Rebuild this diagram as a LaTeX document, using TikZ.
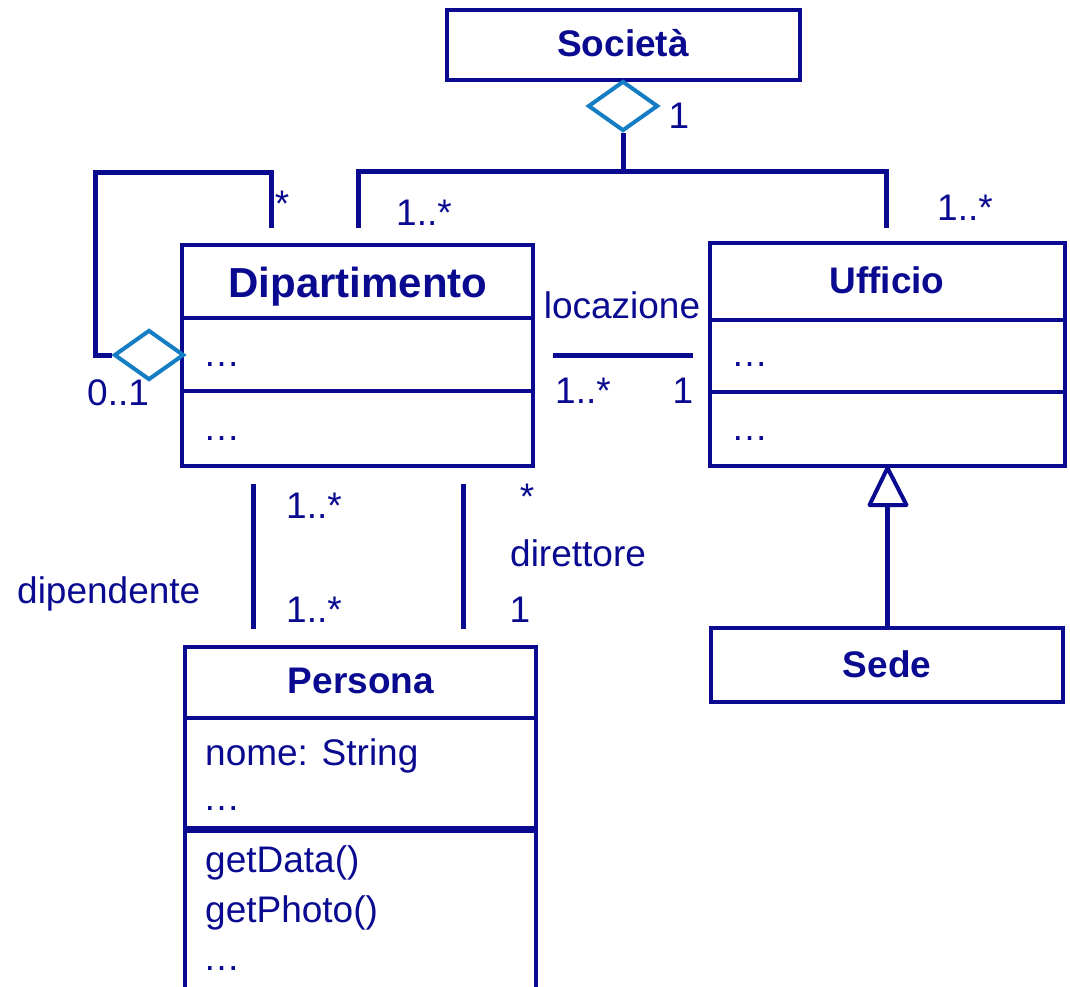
\documentclass[tikz,border=0pt]{standalone}
\usepackage{fontspec}
\setmainfont{Liberation Sans}
\usetikzlibrary{shapes.geometric}
\definecolor{navy}{RGB}{10,10,145}
\definecolor{aggblue}{RGB}{20,125,195}
\tikzset{
  cls/.style={draw=navy, line width=4pt, inner sep=0pt},
  conn/.style={draw=navy, line width=5pt},
  agg/.style={diamond, draw=aggblue, fill=white, line width=4pt, inner sep=0pt,
    minimum width=70pt, minimum height=50pt},
  lbl/.style={text=navy, anchor=base, inner sep=0pt, font=\fontsize{37}{44}\selectfont},
  ttl/.style={lbl, font=\fontsize{37}{44}\selectfont\bfseries}
}
\begin{document}
\begin{tikzpicture}[x=1pt, y=-1pt]

\useasboundingbox (0,0) rectangle (1070,987);
\clip (0,0) rectangle (1070,987);

% classes
\node[cls, minimum width=353, minimum height=70] (soc) at (623.5,45) {};
\node[cls, minimum width=351, minimum height=221] (dip) at (357.5,355.5) {};
\node[cls, minimum width=355, minimum height=223] (uff) at (887.5,354.5) {};
\node[cls, minimum width=352, minimum height=74] (sede) at (887,665) {};
\draw[navy, line width=4pt] (185,1000) -- (185,647) -- (536,647) -- (536,1000);
\coordinate (pers) at (360.5,647);

\draw[navy, line width=4pt] (182,318) -- (533,318);
\draw[navy, line width=4pt] (182,391) -- (533,391);
\draw[navy, line width=4pt] (710,320) -- (1065,320);
\draw[navy, line width=4pt] (710,392) -- (1065,392);
\draw[navy, line width=4pt] (185,718) -- (536,718);
\draw[navy, line width=7pt] (185,829) -- (536,829);

\node[ttl] (soct) at (623,57) {Società};
\node[ttl, font=\fontsize{42}{48}\selectfont\bfseries] (dipt) at (358,297) {Dipartimento};
\node[ttl] (ufft) at (887,293) {Ufficio};
\node[ttl] (perst) at (361,693) {Persona};
\node[ttl] (sedet) at (887,677) {Sede};

\node[lbl, anchor=base west] (dipa) at (203,366) {…};
\node[lbl, anchor=base west] (dipo) at (203,440) {…};
\node[lbl, anchor=base west] (uffa) at (731,366) {…};
\node[lbl, anchor=base west] (uffo) at (731,440) {…};
\node[lbl, anchor=base west] (nome) at (205,765) {nome: String};
\node[lbl, anchor=base west] (persa) at (203,810) {…};
\node[lbl, anchor=base west] (getd) at (205,872) {getData()};
\node[lbl, anchor=base west] (getp) at (205,922) {getPhoto()};
\node[lbl, anchor=base west] (perso) at (203,970) {…};

% Societa aggregation
\node[agg] (sdia) at (623,106) {};
\coordinate (fork) at (623,172);
\coordinate (fdip) at (358,228);
\coordinate (fuff) at (886,228);
\draw[conn] (sdia.south) -- (fork);
\draw[conn] (fdip) |- (fork) -| (fuff);
\node[lbl] (m1) at (679,129) {1};
\node[lbl, anchor=base west] (m2) at (396,225) {1..*};
\node[lbl, anchor=base west] (m3) at (937,220) {1..*};

% self aggregation
\coordinate (sstart) at (271,228);
\coordinate (sleft) at (95,173);
\node[agg] (ddia) at (149,355) {};
\draw[conn] (sstart) |- (sleft) |- (ddia.west);
\node[lbl] (m4) at (282,216) {*};
\node[lbl, anchor=base west] (m5) at (87,405) {0..1};

% locazione
\coordinate (la) at (553,355);
\coordinate (lb) at (693,355);
\draw[conn] (la) -- (lb);
\node[lbl] (loc) at (622,318) {locazione};
\node[lbl, anchor=base west] (m6) at (555,403) {1..*};
\node[lbl] (m7) at (683,403) {1};

% dipendente
\coordinate (da) at (253,484);
\coordinate (db) at (253,629);
\draw[conn] (da) -- (db);
\node[lbl, anchor=base west] (m8) at (286,518) {1..*};
\node[lbl, anchor=base west] (m9) at (286,622) {1..*};
\node[lbl, anchor=base west] (dipe) at (17,603) {dipendente};

% direttore
\coordinate (ra) at (463,484);
\coordinate (rb) at (463,629);
\draw[conn] (ra) -- (rb);
\node[lbl] (m10) at (527,509) {*};
\node[lbl, anchor=base west] (dire) at (510,566) {direttore};
\node[lbl] (m11) at (520,622) {1};

% generalizzazione
\coordinate (tb) at (887,505);
\draw[conn] (sede.north) -- (tb);
\draw[navy, line width=4pt, line join=round] (uff.south) -- ++(-18,37) -- ++(37,0) -- cycle;

\end{tikzpicture}
\end{document}
